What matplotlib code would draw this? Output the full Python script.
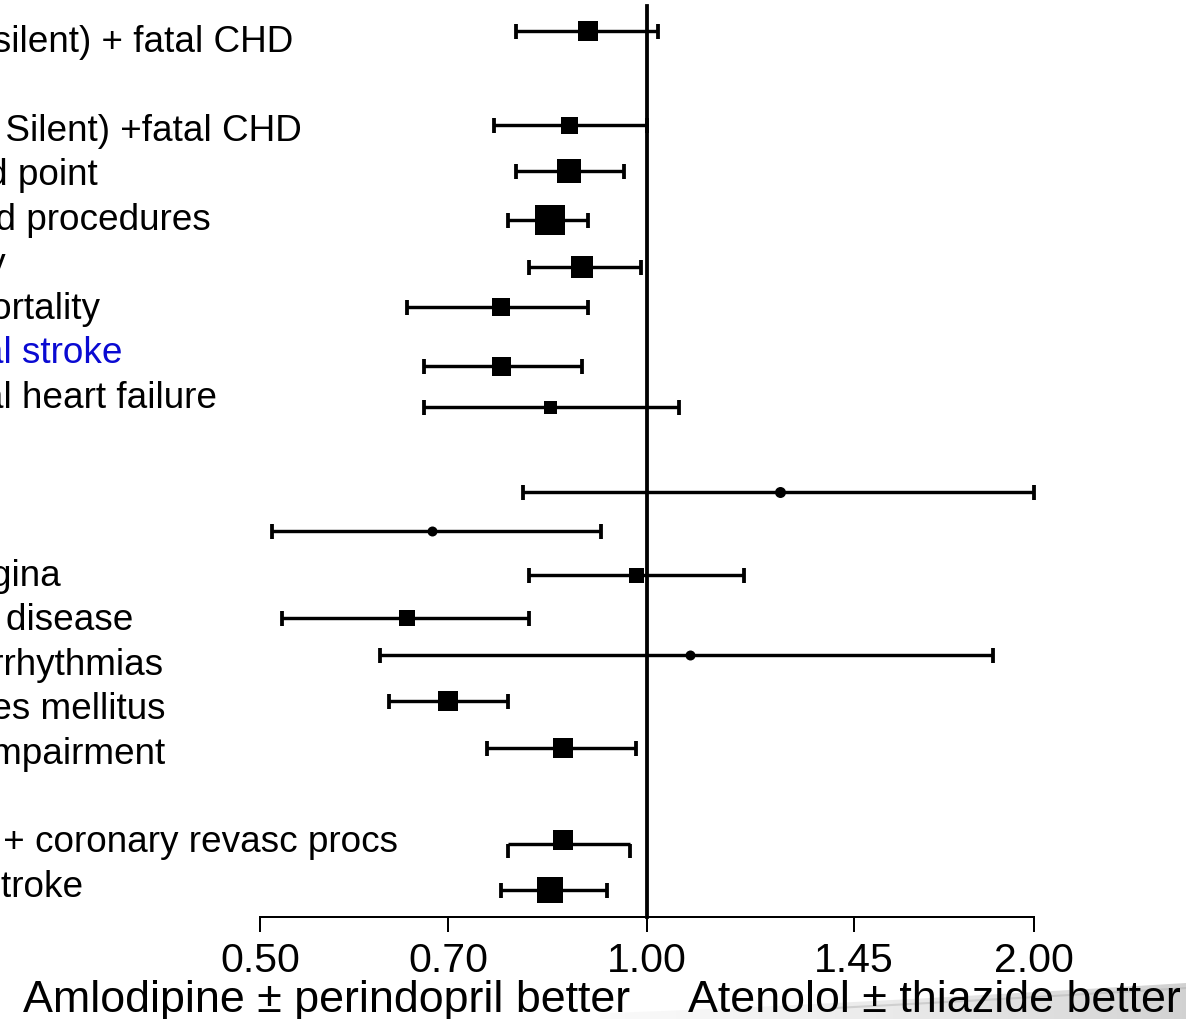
import numpy as np
import matplotlib.pyplot as plt
from matplotlib import transforms

plt.rcParams['font.family'] = ['Liberation Sans', 'DejaVu Sans']

# row labels (blank rows separate the end point groups)
labels = ["Non-fatal MI (incl silent) + fatal CHD", "",
          "Non-fatal MI (exc. Silent) +fatal CHD", "Total coronary end point",
          "Total CV event and procedures", "All-cause mortality",
          "Cardiovascular mortality", "Fatal and non-fatal stroke",
          "Fatal and non-fatal heart failure", "",
          "Silent MI", "Unstable angina", "Chronic stable angina",
          "Peripheral arterial disease", "Life-threatening arrhythmias",
          "New-onset diabetes mellitus", "New-onset renal impairment", "",
          "Primary end point + coronary revasc procs", "CV death + MI + stroke"]

# hazard ratios with 95% CI, one per non-blank row
hr = [0.90, 0.87, 0.87, 0.84, 0.89, 0.77, 0.77, 0.84,
      1.27, 0.68, 0.98, 0.65, 1.08, 0.70, 0.86, 0.86, 0.84]
ci_lo = [0.79, 0.76, 0.79, 0.78, 0.81, 0.65, 0.67, 0.67,
         0.80, 0.51, 0.81, 0.52, 0.62, 0.63, 0.75, 0.78, 0.77]
ci_hi = [1.02, 1.00, 0.96, 0.90, 0.99, 0.90, 0.89, 1.06,
         2.00, 0.92, 1.19, 0.81, 1.86, 0.78, 0.98, 0.97, 0.93]

tick_vals = [0.50, 0.70, 1.00, 1.45, 2.00]
tick_labels = ["0.50", "0.70", "1.00", "1.45", "2.00"]

# vertical placement of each estimate (row units) and box sizes (px)
mark_rows = [-0.11, 2.0, 3.04, 4.14, 5.19, 6.1, 7.42, 8.35,
             10.25, 11.13, 12.13, 13.08, 13.93, 14.96, 16.01, 18.17, 19.21]
box_px = [20, 17, 24, 30, 23, 18, 19, 13, 11, 10, 15, 16, 10, 20, 20, 20, 26]
shapes = ['s'] * 8 + ['o', 'o', 's', 's', 'o', 's', 's', 's', 's']
HANGING = 15   # this row was drawn with drooping caps

DPI = 100
W, H = 1186, 1019
PX = 72.0 / DPI   # points per pixel

fig = plt.figure(figsize=(W / DPI, H / DPI), dpi=DPI)
ax = fig.add_axes([0, 0, 1, 1])
ax.set_xscale('log')
ax.set_xlim(0.3134, 2.629)
ax.set_ylim(22.105, -0.8095)
ax.patch.set_alpha(0)

for sp in ['top', 'left', 'right']:
    ax.spines[sp].set_visible(False)
ax.spines['bottom'].set_position(('data', 19.81))
ax.spines['bottom'].set_bounds(0.5, 2.0)
ax.spines['bottom'].set_linewidth(2 * PX)
ax.set_yticks([])
ax.set_xticks(tick_vals)
ax.set_xticklabels(tick_labels)
ax.xaxis.set_minor_locator(plt.NullLocator())
ax.tick_params(axis='x', direction='out', length=15 * PX, width=2 * PX,
               labelsize=29.5, pad=7)

# line of no effect
ax.plot([1.0, 1.0], [-0.67, 19.81], color='black', lw=3.8 * PX, zorder=2)

hr = np.array(hr)
lo = np.array(ci_lo)
hi = np.array(ci_hi)
rows = np.array(mark_rows)

for i in range(len(hr)):
    cap = 0 if i == HANGING else 7.5 * PX
    ax.errorbar(hr[i], rows[i], xerr=[[hr[i] - lo[i]], [hi[i] - hr[i]]],
                fmt='none', ecolor='black', elinewidth=3.4 * PX,
                capsize=cap, capthick=3.8 * PX, zorder=3)
    ax.plot(hr[i], rows[i] - (0.09 if i == HANGING else 0), marker=shapes[i],
            color='black', markersize=box_px[i] * PX, markeredgewidth=0,
            zorder=4)

# caps on the revasc row hang below the bar
ax.vlines([lo[HANGING], hi[HANGING]], rows[HANGING], rows[HANGING] + 0.32,
          color='black', lw=3.8 * PX, zorder=3)

# row labels start left of the canvas, so only their tails show
blend = transforms.blended_transform_factory(fig.transFigure, ax.transData)
lab_trans = transforms.offset_copy(blend, fig=fig, y=-16, units='dots')
for k, txt in enumerate(labels):
    if not txt:
        continue
    col = '#0a0ad2' if txt == "Fatal and non-fatal stroke" else 'black'
    ax.text(-296 / W, k, txt, transform=lab_trans, ha='left', va='baseline',
            fontsize=26.6, color=col, clip_on=False)

fig.text(630 / W, (H - 1012) / H, "Amlodipine \u00b1 perindopril better",
         ha='right', va='baseline', fontsize=32.3)
fig.text(688 / W, (H - 1012) / H, "Atenolol \u00b1 thiazide better",
         ha='left', va='baseline', fontsize=32.3)

# faint grey swoosh along the bottom right edge
bg = fig.add_axes([0, 0, 1, 1], zorder=-1)
bg.set_xlim(0, W)
bg.set_ylim(H, 0)
bg.axis('off')
xs = np.linspace(600, W, 200)
t = (xs - 600) / (W - 600)
top = H - 6 - 30 * t ** 1.2
grad = np.linspace(0, 1, 256).reshape(1, -1)
img = bg.imshow(grad, extent=[600, W, H, H - 45], aspect='auto',
                cmap='Greys', vmin=-0.2, vmax=2.6, alpha=0.55)
poly = plt.Polygon(np.column_stack([np.r_[xs, W, 600], np.r_[top, H, H]]),
                   transform=bg.transData, facecolor='none', edgecolor='none')
bg.add_patch(poly)
img.set_clip_path(poly)
bg.plot(xs[80:], top[80:] + 5, color='#a8a8a8', lw=1.5, alpha=0.4)

fig.savefig('out.png', dpi=DPI)
